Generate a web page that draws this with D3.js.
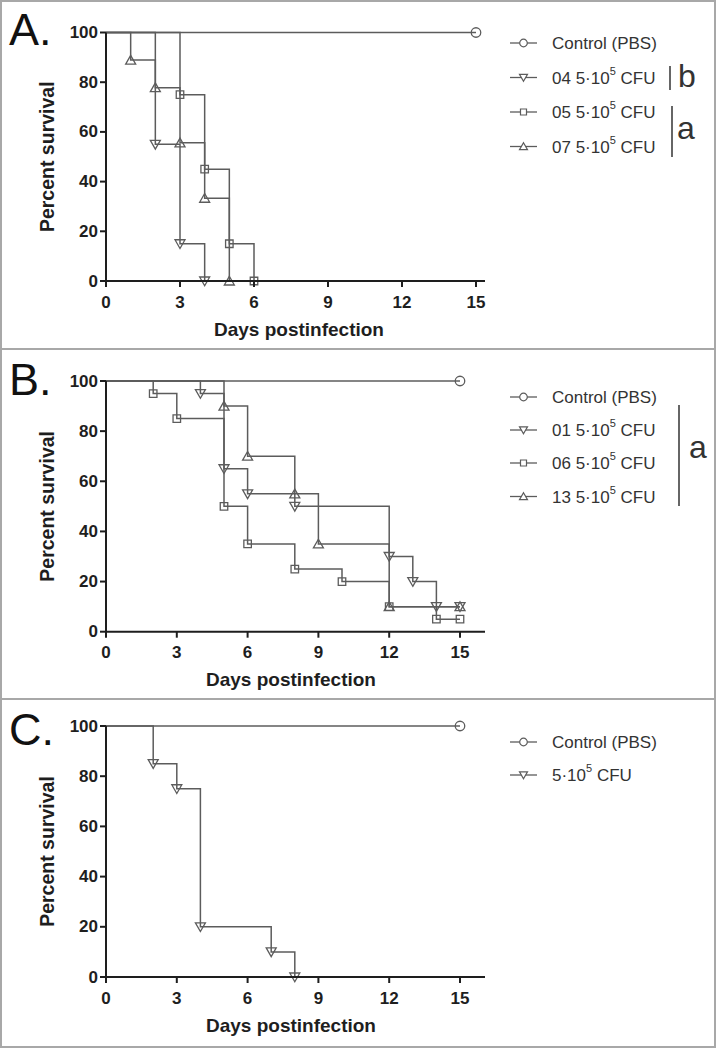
<!DOCTYPE html>
<html>
<head>
<meta charset="utf-8">
<script src="https://cdn.jsdelivr.net/npm/d3@7/dist/d3.min.js"></script>
<style>
  html, body { margin: 0; padding: 0; background: #fff; }
  svg { display: block; }
  text { font-family: "Liberation Sans", Arial, sans-serif; }
</style>
</head>
<body>
<svg id="chart" width="716" height="1049"></svg>
<script>
// ---------- DATA ----------
const xTicks = [0, 3, 6, 9, 12, 15];
const yTicks = [0, 20, 40, 60, 80, 100];
const panelLetters = ["A.", "B.", "C."];
const xTitle = "Days postinfection";
const yTitle = "Percent survival";

// Panel A
const labelsA = ["Control (PBS)", "04", "05", "07"];
const shapesA = ["circle", "down", "square", "up"];
const daysA_ctrl = [0, 15];   const survA_ctrl = [100, 100];
const daysA_04 = [0, 2, 3, 4];  const survA_04 = [100, 55, 15, 0];
const daysA_05 = [0, 3, 4, 5, 6]; const survA_05 = [100, 75, 45, 15, 0];
const daysA_07 = [0, 1, 2, 3, 4, 5]; const survA_07 = [100, 88.9, 77.8, 55.6, 33.3, 0];

// Panel B
const labelsB = ["Control (PBS)", "01", "06", "13"];
const shapesB = ["circle", "down", "square", "up"];
const daysB_ctrl = [0, 15];   const survB_ctrl = [100, 100];
const daysB_01 = [0, 4, 5, 6, 8, 12, 13, 14, 15]; const survB_01 = [100, 95, 65, 55, 50, 30, 20, 10, 10];
const daysB_06 = [0, 2, 3, 5, 6, 8, 10, 12, 14, 15]; const survB_06 = [100, 95, 85, 50, 35, 25, 20, 10, 5, 5];
const daysB_13 = [0, 5, 6, 8, 9, 12, 15]; const survB_13 = [100, 90, 70, 55, 35, 10, 10];

// Panel C
const labelsC = ["Control (PBS)", ""];
const shapesC = ["circle", "down"];
const daysC_ctrl = [0, 15];   const survC_ctrl = [100, 100];
const daysC_1 = [0, 2, 3, 4, 7, 8]; const survC_1 = [100, 85, 75, 20, 10, 0];

// ---------- DRAW ----------
const svg = d3.select("#chart");
const LINE = "#5c5c5c", AX = "#1e1e1e";

// outer frame and separators
svg.append("rect").attr("x", 1).attr("y", 1).attr("width", 714).attr("height", 1046)
  .attr("fill", "none").attr("stroke", "#a8a8a8").attr("stroke-width", 2);
[349, 699].forEach(y => svg.append("line").attr("x1", 0).attr("x2", 716).attr("y1", y).attr("y2", y)
  .attr("stroke", "#a8a8a8").attr("stroke-width", 2));

function markerPath(shape, s) {
  // s = half size
  if (shape === "up") return `M0,${-s*0.95}L${s},${s*0.8}L${-s},${s*0.8}Z`;
  if (shape === "down") return `M0,${s*0.95}L${s},${-s*0.8}L${-s},${-s*0.8}Z`;
  if (shape === "square") { const q = s*0.75; return `M${-q},${-q}H${q}V${q}H${-q}Z`; }
  return `M${s*0.95},0A${s*0.95},${s*0.95} 0 1 1 ${-s*0.95},0A${s*0.95},${s*0.95} 0 1 1 ${s*0.95},0Z`;
}

function drawPanel(cfg) {
  const g = svg.append("g");
  const x = d3.scaleLinear().domain([0, 15]).range([106, cfg.x15]);
  const y = d3.scaleLinear().domain([0, 100]).range([cfg.y0, cfg.y100]);

  // series
  const line = d3.line().x(d => x(d[0])).y(d => y(d[1])).curve(d3.curveStepAfter);
  cfg.series.forEach(s => {
    const pts = s.days.map((d, i) => [d, s.surv[i]]);
    g.append("path").attr("d", line(pts)).attr("fill", "none")
      .attr("stroke", LINE).attr("stroke-width", 1.5);
    g.selectAll(null).data(pts.slice(1)).join("path")
      .attr("transform", d => `translate(${x(d[0])},${y(d[1])})`)
      .attr("d", markerPath(s.shape, 5))
      .attr("fill", "none").attr("stroke", LINE).attr("stroke-width", 1.3);
  });

  // axes
  g.append("line").attr("x1", 106).attr("x2", 485).attr("y1", cfg.y0).attr("y2", cfg.y0)
    .attr("stroke", AX).attr("stroke-width", 2);
  g.append("line").attr("x1", 106).attr("x2", 106).attr("y1", cfg.y0).attr("y2", cfg.y100)
    .attr("stroke", AX).attr("stroke-width", 2);
  xTicks.forEach(t => {
    g.append("line").attr("x1", x(t)).attr("x2", x(t)).attr("y1", cfg.y0).attr("y2", cfg.y0 + 6)
      .attr("stroke", AX).attr("stroke-width", 2);
    g.append("text").attr("x", x(t)).attr("y", cfg.y0 + 21).attr("text-anchor", "middle")
      .attr("dominant-baseline", "central").attr("font-size", 17).attr("font-weight", "bold")
      .attr("fill", AX).text(t);
  });
  yTicks.forEach(t => {
    g.append("line").attr("x1", 100).attr("x2", 106).attr("y1", y(t)).attr("y2", y(t))
      .attr("stroke", AX).attr("stroke-width", 2);
    g.append("text").attr("x", 98).attr("y", y(t)).attr("text-anchor", "end")
      .attr("dominant-baseline", "central").attr("font-size", 17).attr("font-weight", "bold")
      .attr("fill", AX).text(t);
  });
  g.append("text").attr("x", (106 + cfg.x15) / 2 + 8).attr("y", cfg.y0 + 48)
    .attr("text-anchor", "middle").attr("dominant-baseline", "central")
    .attr("font-size", 19).attr("font-weight", "bold").attr("fill", AX).text(xTitle);
  g.append("text").attr("transform", `translate(47,${(cfg.y0 + cfg.y100) / 2}) rotate(-90)`)
    .attr("text-anchor", "middle").attr("dominant-baseline", "central")
    .attr("font-size", 19.5).attr("font-weight", "bold").attr("fill", AX).text(yTitle);

  // panel letter
  g.append("text").attr("x", 9).attr("y", cfg.letterY).attr("font-size", 45)
    .attr("fill", "#111").text(cfg.letter);

  // legend
  cfg.series.forEach((s, i) => {
    const ly = cfg.legY[i];
    g.append("line").attr("x1", 510).attr("x2", 537).attr("y1", ly).attr("y2", ly)
      .attr("stroke", LINE).attr("stroke-width", 1.3);
    g.append("path").attr("transform", `translate(523.5,${ly})`).attr("d", markerPath(s.shape, 4))
      .attr("fill", "#fff").attr("stroke", LINE).attr("stroke-width", 1.2);
    const t = g.append("text").attr("x", 552).attr("y", ly).attr("dominant-baseline", "central")
      .attr("font-size", 17).attr("fill", "#333");
    if (s.label === "Control (PBS)") { t.text(s.label); }
    else {
      t.append("tspan").text((s.label ? s.label + " " : "") + "5·10");
      t.append("tspan").attr("font-size", 11).attr("dy", -7).text("5");
      t.append("tspan").attr("dy", 7).text(" CFU");
    }
  });
  (cfg.brackets || []).forEach(b => {
    g.append("line").attr("x1", b.x).attr("x2", b.x).attr("y1", b.y1).attr("y2", b.y2)
      .attr("stroke", "#333").attr("stroke-width", 1.5);
    g.append("text").attr("x", b.tx).attr("y", b.ty).attr("text-anchor", "middle")
      .attr("dominant-baseline", "central").attr("font-size", 32).attr("fill", "#333").text(b.t);
  });
}

drawPanel({
  letter: panelLetters[0], letterY: 45, x15: 476, y0: 281, y100: 32.5,
  legY: [43, 77.5, 112, 146.5],
  series: [
    { label: labelsA[0], shape: shapesA[0], days: daysA_ctrl, surv: survA_ctrl },
    { label: labelsA[1], shape: shapesA[1], days: daysA_04, surv: survA_04 },
    { label: labelsA[2], shape: shapesA[2], days: daysA_05, surv: survA_05 },
    { label: labelsA[3], shape: shapesA[3], days: daysA_07, surv: survA_07 }
  ],
  brackets: [
    { x: 670, y1: 66, y2: 90, t: "b", tx: 687, ty: 76 },
    { x: 672, y1: 106, y2: 157, t: "a", tx: 686, ty: 128 }
  ]
});
drawPanel({
  letter: panelLetters[1], letterY: 395, x15: 460, y0: 631.7, y100: 381,
  legY: [397, 430, 463, 496.5],
  series: [
    { label: labelsB[0], shape: shapesB[0], days: daysB_ctrl, surv: survB_ctrl },
    { label: labelsB[1], shape: shapesB[1], days: daysB_01, surv: survB_01 },
    { label: labelsB[2], shape: shapesB[2], days: daysB_06, surv: survB_06 },
    { label: labelsB[3], shape: shapesB[3], days: daysB_13, surv: survB_13 }
  ],
  brackets: [
    { x: 679, y1: 405, y2: 506, t: "a", tx: 698, ty: 447 }
  ]
});
drawPanel({
  letter: panelLetters[2], letterY: 745, x15: 460, y0: 977, y100: 726,
  legY: [742, 775],
  series: [
    { label: labelsC[0], shape: shapesC[0], days: daysC_ctrl, surv: survC_ctrl },
    { label: labelsC[1], shape: shapesC[1], days: daysC_1, surv: survC_1 }
  ]
});
</script>
</body>
</html>
